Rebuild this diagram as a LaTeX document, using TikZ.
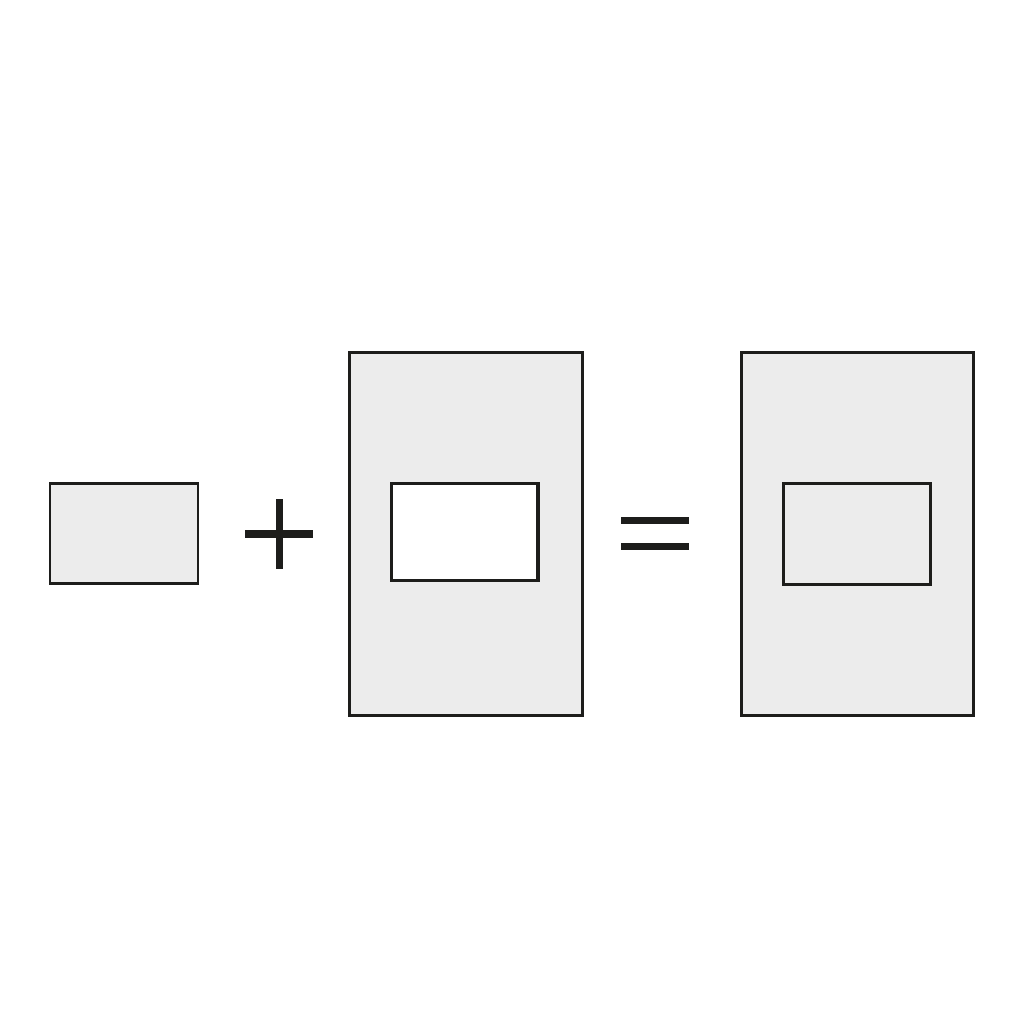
\documentclass[tikz,border=0pt]{standalone}
\usepackage{tikz}
\usetikzlibrary{positioning}

\definecolor{panelgray}{HTML}{ECECEC}
\definecolor{inkblack}{HTML}{1D1D1B}

\tikzset{
  panel/.style={draw=inkblack, line width=0.85pt, fill=panelgray},
  hole/.style={draw=inkblack, line width=0.9pt, fill=white},
  sign/.style={draw=inkblack, line width=2.15pt}
}

\begin{document}
\begin{tikzpicture}[x=0.01cm, y=-0.01cm]

\useasboundingbox (0,0) rectangle (1024,1024);

% single small piece
\draw[panel] (50,483) rectangle (198,583);

% plus
\draw[sign] (245,534) -- (313,534);
\draw[sign] (279.3,499) -- (279.3,569);

% sheet with cut-out
\draw[panel] (349.7,352.5) rectangle (582,715.5);
\draw[hole] (391.7,483.3) rectangle (538,580.7);

% equals
\draw[sign] (621,520.5) -- (689,520.5);
\draw[sign] (621,546.7) -- (689,546.7);

% sheet with piece set in
\draw[panel] (741,352.5) rectangle (973.5,715.5);
\draw[panel] (783,483.3) rectangle (930,584);

\end{tikzpicture}
\end{document}
